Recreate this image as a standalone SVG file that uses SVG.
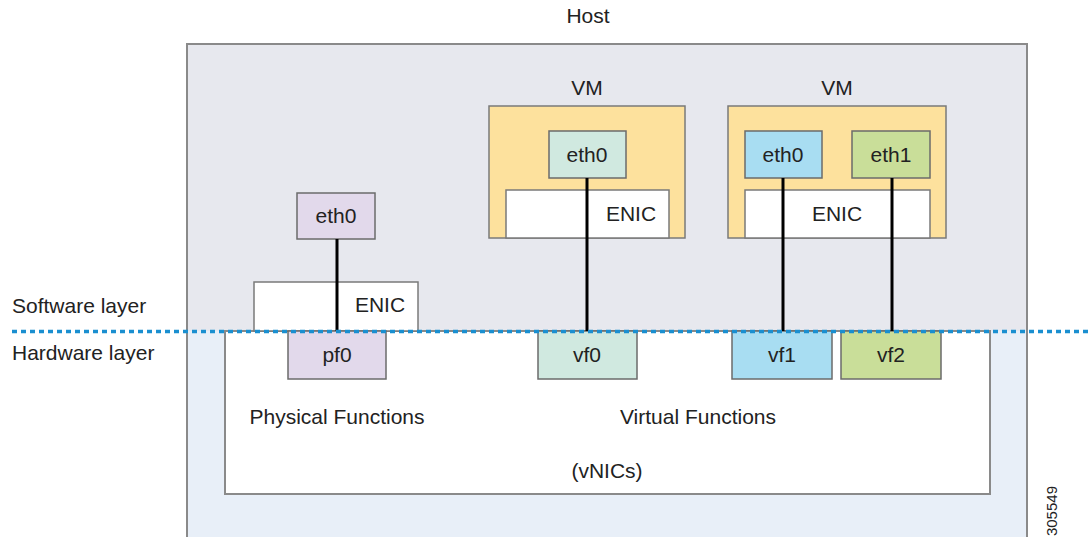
<svg xmlns="http://www.w3.org/2000/svg" width="1090" height="537" viewBox="0 0 1090 537">
  <style>
    text { font-family: "Liberation Sans", Arial, sans-serif; font-size: 21px; fill: #222; }
    .c { text-anchor: middle; }
    .box { stroke: #6b6b6b; stroke-width: 1.5; }
    .frame { stroke: #8a8a8a; stroke-width: 2; }
    .link { stroke: #000; stroke-width: 3; fill: none; }
    .lav { fill: #e2d9eb; }
    .mint { fill: #d0e9e0; }
    .blue { fill: #a8ddf2; }
    .green { fill: #c9de99; }
    .vm { fill: #fde19d; stroke: #7a7a7a; stroke-width: 1.5; }
    .enic { fill: #ffffff; stroke: #7a7a7a; stroke-width: 1.5; }
  </style>

  <rect width="1090" height="537" fill="#ffffff"/>

  <g id="host">
    <rect x="187" y="44" width="840" height="287" fill="#e7e8ee"/>
    <rect x="187" y="331" width="840" height="215" fill="#e8eff8"/>
    <rect x="187" y="44" width="840" height="502" fill="none" class="frame"/>
    <text x="588" y="23" class="c">Host</text>
  </g>

  <g id="hardware">
    <rect x="225" y="331" width="765" height="163" fill="#ffffff" class="frame"/>
    <text x="337" y="424" class="c">Physical Functions</text>
    <text x="698" y="424" class="c">Virtual Functions</text>
    <text x="607" y="478" class="c">(vNICs)</text>
  </g>

  <g id="layers">
    <text x="12" y="313">Software layer</text>
    <text x="12" y="360">Hardware layer</text>
  </g>

  <g id="vm1">
    <rect x="489" y="106" width="196" height="132" class="vm"/>
    <text x="587" y="95" class="c">VM</text>
    <rect x="506" y="190" width="163" height="48" class="enic"/>
    <text x="631" y="221" class="c">ENIC</text>
  </g>

  <g id="vm2">
    <rect x="728" y="106" width="218" height="132" class="vm"/>
    <text x="837" y="95" class="c">VM</text>
    <rect x="745" y="190" width="185" height="48" class="enic"/>
    <text x="837" y="221" class="c">ENIC</text>
  </g>

  <g id="pf-enic">
    <rect x="254" y="282" width="164" height="49" class="enic"/>
    <text x="380" y="312" class="c">ENIC</text>
  </g>

  <g id="pf-eth0">
    <rect x="297" y="193" width="78" height="46" class="box lav"/>
    <text x="336" y="223" class="c">eth0</text>
  </g>
  <g id="vm1-eth0">
    <rect x="549" y="131" width="77" height="47" class="box mint"/>
    <text x="587" y="162" class="c">eth0</text>
  </g>
  <g id="vm2-eth0">
    <rect x="745" y="131" width="77" height="47" class="box blue"/>
    <text x="783" y="162" class="c">eth0</text>
  </g>
  <g id="vm2-eth1">
    <rect x="852" y="131" width="78" height="47" class="box green"/>
    <text x="891" y="162" class="c">eth1</text>
  </g>

  <g id="pf0">
    <rect x="288" y="331" width="98" height="48" class="box lav"/>
    <text x="337" y="362" class="c">pf0</text>
  </g>
  <g id="vf0">
    <rect x="538" y="331" width="99" height="48" class="box mint"/>
    <text x="587" y="362" class="c">vf0</text>
  </g>
  <g id="vf1">
    <rect x="732" y="331" width="100" height="48" class="box blue"/>
    <text x="782" y="362" class="c">vf1</text>
  </g>
  <g id="vf2">
    <rect x="841" y="331" width="100" height="48" class="box green"/>
    <text x="891" y="362" class="c">vf2</text>
  </g>

  <g id="connectors">
    <line x1="337" y1="239" x2="337" y2="331" class="link"/>
    <line x1="587" y1="178" x2="587" y2="331" class="link"/>
    <line x1="783" y1="178" x2="783" y2="331" class="link"/>
    <line x1="892" y1="178" x2="892" y2="331" class="link"/>
  </g>

  <g id="boundary">
    <line x1="12" y1="331.5" x2="1088" y2="331.5" stroke="#1a8fd0" stroke-width="3.5" stroke-dasharray="5 4"/>
  </g>

  <text x="1057" y="486" font-size="15" text-anchor="end" transform="rotate(-90 1057 486)" style="font-size:15px">305549</text>
</svg>
